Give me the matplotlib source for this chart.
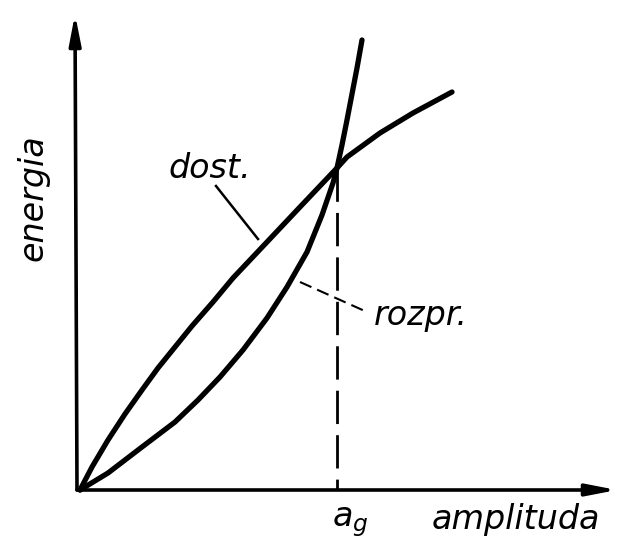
import numpy as np
import matplotlib
matplotlib.use("Agg")
import matplotlib.pyplot as plt

# punkty (jednostki umowne)
dost_x = [0, 12, 28, 45, 62, 78, 95, 112, 133, 153, 187, 220, 257, 267, 300, 333, 372]
dost_y = [0, 23, 50, 76, 100, 122, 143, 164, 188, 212, 248, 283, 322, 333, 357, 377, 398]

rozpr_x = [0, 28, 62, 95, 118, 140, 163, 187, 207, 227, 242, 253, 257, 262, 267, 272, 277, 282]
rozpr_y = [0, 17, 43, 68, 90, 113, 140, 172, 203, 238, 275, 307, 322, 345, 370, 396, 422, 450]

a_g = 257
e_g = 322

fig = plt.figure(figsize=(6.21, 5.50), dpi=100)
ax = fig.add_axes([0, 0, 1, 1])
ax.set_xlim(-80, 541)
ax.set_ylim(-60, 490)
ax.axis('off')

# osie ze strzalkami
arr = dict(arrowstyle='-|>,head_length=1.8,head_width=0.35', lw=2.6, color='black',
           shrinkA=0, shrinkB=0)
ax.annotate('', xy=(537, 0), xytext=(-3, 0), arrowprops=arr)
ax.annotate('', xy=(-5, 476), xytext=(-3, 0), arrowprops=arr)

# krzywe
ax.plot(dost_x, dost_y, color='black', lw=3.8, solid_capstyle='round', solid_joinstyle='round')
ax.plot(rozpr_x, rozpr_y, color='black', lw=3.8, solid_capstyle='round', solid_joinstyle='round')

# linia przerywana
ax.plot([a_g, a_g], [e_g, 0], color='black', lw=2, dashes=(12, 4))

# odnosniki
ax.plot([136, 178], [304, 251], color='black', lw=1.8)
ax.plot([220, 287], [208, 178], color='black', lw=1.5, dashes=(6, 3))

fs = 24
ax.text(130, 322, 'dost.', fontsize=fs, style='italic', ha='center', va='center')
ax.text(341, 174, 'rozpr.', fontsize=fs, style='italic', ha='center', va='center')
ax.text(270, -32, r'$a_g$', fontsize=fs, ha='center', va='center')
ax.text(436, -30, 'amplituda', fontsize=fs, style='italic', ha='center', va='center')
ax.text(-47, 292, 'energia', fontsize=fs, style='italic', ha='center', va='center',
        rotation=90)

fig.savefig('out.png', dpi=100)
